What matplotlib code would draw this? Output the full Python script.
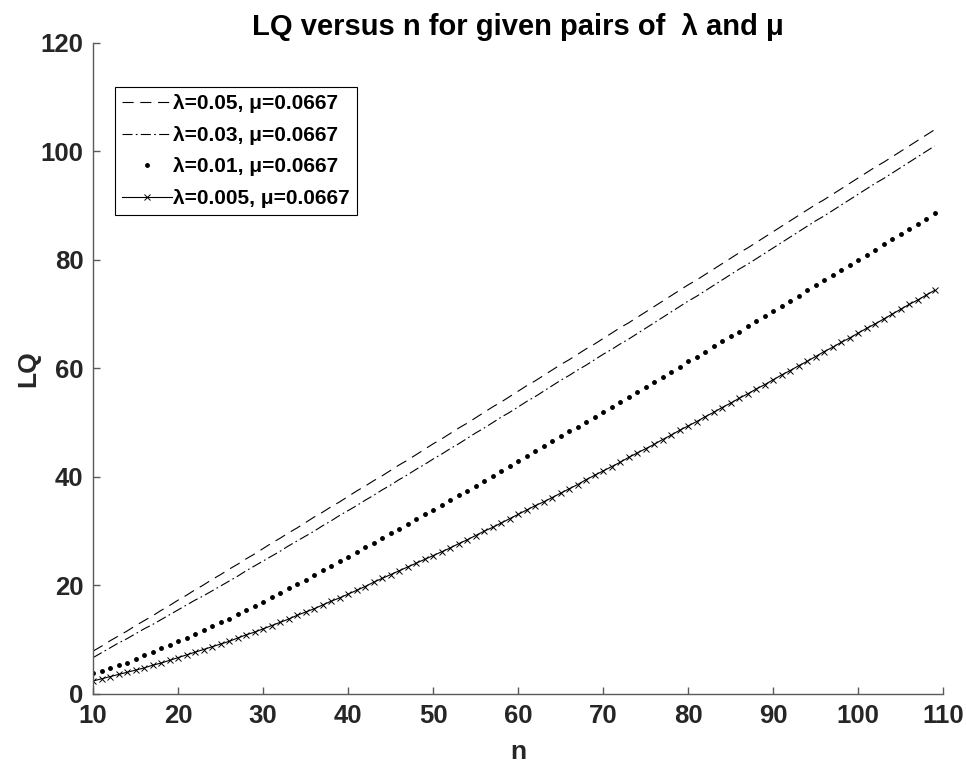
import matplotlib
matplotlib.use("Agg")
import matplotlib.pyplot as plt

plt.rcParams['font.family'] = ['Liberation Sans', 'DejaVu Sans']
plt.rcParams['font.weight'] = 'bold'

# number of machines
n = list(range(10, 110))

# lambda = 0.05
lq_005 = [7.9, 8.8, 9.8, 10.7, 11.6, 12.6, 13.5, 14.4, 15.4, 16.3,
          17.3, 18.2, 19.2, 20.1, 21.1, 22.0, 23.0, 23.9, 24.9, 25.8,
          26.8, 27.8, 28.7, 29.7, 30.6, 31.6, 32.6, 33.5, 34.5, 35.4,
          36.4, 37.4, 38.3, 39.3, 40.2, 41.2, 42.2, 43.1, 44.1, 45.1,
          46.1, 47.0, 48.0, 49.0, 49.9, 50.9, 51.9, 52.9, 53.8, 54.8,
          55.8, 56.8, 57.7, 58.7, 59.7, 60.7, 61.6, 62.6, 63.6, 64.5,
          65.5, 66.5, 67.5, 68.4, 69.4, 70.4, 71.4, 72.4, 73.4, 74.4,
          75.4, 76.3, 77.3, 78.3, 79.3, 80.3, 81.3, 82.2, 83.2, 84.2,
          85.2, 86.2, 87.2, 88.2, 89.2, 90.2, 91.1, 92.1, 93.1, 94.1,
          95.1, 96.1, 97.1, 98.0, 99.0, 100.0, 101.0, 102.0, 103.0, 104.0]

# lambda = 0.03
lq_003 = [6.7, 7.6, 8.5, 9.4, 10.2, 11.1, 12.0, 12.8, 13.7, 14.6,
          15.5, 16.4, 17.3, 18.1, 19.0, 19.9, 20.8, 21.7, 22.7, 23.6,
          24.5, 25.4, 26.3, 27.3, 28.2, 29.1, 30.0, 31.0, 31.9, 32.9,
          33.8, 34.7, 35.7, 36.6, 37.6, 38.5, 39.5, 40.4, 41.4, 42.3,
          43.3, 44.2, 45.2, 46.1, 47.1, 48.1, 49.0, 50.0, 51.0, 51.9,
          52.9, 53.9, 54.8, 55.8, 56.8, 57.8, 58.7, 59.7, 60.6, 61.6,
          62.6, 63.5, 64.5, 65.4, 66.4, 67.4, 68.4, 69.4, 70.4, 71.4,
          72.4, 73.3, 74.3, 75.3, 76.3, 77.3, 78.3, 79.2, 80.2, 81.2,
          82.2, 83.2, 84.2, 85.2, 86.2, 87.2, 88.1, 89.1, 90.1, 91.1,
          92.1, 93.1, 94.1, 95.0, 96.0, 97.0, 98.0, 99.0, 100.0, 101.0]

# lambda = 0.01
lq_001 = [3.8, 4.3, 4.7, 5.3, 5.8, 6.4, 7.1, 7.7, 8.4, 9.0,
          9.7, 10.4, 11.1, 11.8, 12.5, 13.2, 13.9, 14.7, 15.5, 16.2,
          17.0, 17.8, 18.6, 19.5, 20.3, 21.1, 21.9, 22.8, 23.6, 24.5,
          25.3, 26.2, 27.0, 27.9, 28.7, 29.6, 30.5, 31.4, 32.2, 33.1,
          34.0, 34.9, 35.8, 36.6, 37.5, 38.4, 39.3, 40.2, 41.1, 42.0,
          42.9, 43.8, 44.7, 45.7, 46.6, 47.5, 48.4, 49.3, 50.2, 51.1,
          52.0, 52.9, 53.8, 54.8, 55.7, 56.6, 57.5, 58.5, 59.4, 60.3,
          61.3, 62.2, 63.1, 64.1, 65.0, 65.9, 66.8, 67.8, 68.7, 69.7,
          70.6, 71.5, 72.5, 73.4, 74.4, 75.3, 76.3, 77.2, 78.1, 79.1,
          80.0, 81.0, 81.9, 82.9, 83.8, 84.8, 85.7, 86.7, 87.6, 88.6]

# lambda = 0.005
lq_0005 = [2.4, 2.8, 3.2, 3.6, 4.0, 4.4, 4.8, 5.3, 5.7, 6.2,
           6.7, 7.2, 7.7, 8.2, 8.7, 9.2, 9.7, 10.3, 10.9, 11.4,
           12.0, 12.6, 13.2, 13.8, 14.5, 15.1, 15.7, 16.4, 17.1, 17.7,
           18.4, 19.1, 19.8, 20.6, 21.3, 22.0, 22.7, 23.4, 24.1, 24.8,
           25.5, 26.2, 26.9, 27.7, 28.4, 29.2, 30.0, 30.7, 31.5, 32.3,
           33.1, 33.9, 34.7, 35.4, 36.2, 37.0, 37.8, 38.6, 39.5, 40.3,
           41.1, 41.9, 42.7, 43.6, 44.4, 45.2, 46.0, 46.9, 47.7, 48.6,
           49.4, 50.2, 51.1, 51.9, 52.8, 53.6, 54.5, 55.3, 56.2, 57.0,
           57.9, 58.8, 59.6, 60.5, 61.3, 62.2, 63.1, 63.9, 64.8, 65.6,
           66.5, 67.4, 68.2, 69.1, 70.0, 70.9, 71.8, 72.6, 73.5, 74.4]

labels = ['λ=0.05, μ=0.0667', 'λ=0.03, μ=0.0667',
          'λ=0.01, μ=0.0667', 'λ=0.005, μ=0.0667']

fig = plt.figure(figsize=(9.66, 7.66), dpi=100)
ax = fig.add_axes([0.0963, 0.094, 0.88, 0.85])

ax.plot(n, lq_005, color='black', lw=0.8, ls=(0, (10, 6)), label=labels[0])
ax.plot(n, lq_003, color='black', lw=0.8, ls=(0, (9, 3, 1.5, 3)), label=labels[1])
ax.plot(n, lq_001, color='black', ls='none', marker='o', ms=2.5, label=labels[2])
ax.plot(n, lq_0005, color='black', lw=0.8, marker='x', ms=5, mew=0.7, label=labels[3])

ax.set_xlim(10, 110)
ax.set_ylim(0, 120)
ax.set_xticks(range(10, 111, 10))
ax.set_yticks(range(0, 121, 20))

for side in ['top', 'right']:
    ax.spines[side].set_visible(False)
for side in ['left', 'bottom']:
    ax.spines[side].set_color('#5a5a5a')
    ax.spines[side].set_linewidth(1.0)
ax.tick_params(direction='in', length=5, width=1.0, color='#5a5a5a',
               labelsize=18.5, labelcolor='#262626', pad=7)

ax.set_xlabel('n', fontsize=19, fontweight='bold', color='#262626', labelpad=9)
ax.set_ylabel('LQ', fontsize=19, fontweight='bold', color='#262626', labelpad=0)
ax.set_title('LQ versus n for given pairs of  λ and μ', fontsize=21,
             fontweight='bold', color='black', pad=6)

leg = ax.legend(loc='upper left', bbox_to_anchor=(0.026, 0.932), borderaxespad=0,
                fancybox=False, framealpha=1, edgecolor='black', fontsize=15,
                handlelength=2.4, handletextpad=0.05, labelspacing=0.6,
                borderpad=0.35)
leg.get_frame().set_linewidth(0.8)
for t in leg.get_texts():
    t.set_fontweight('bold')

fig.savefig('out.png', dpi=100)
